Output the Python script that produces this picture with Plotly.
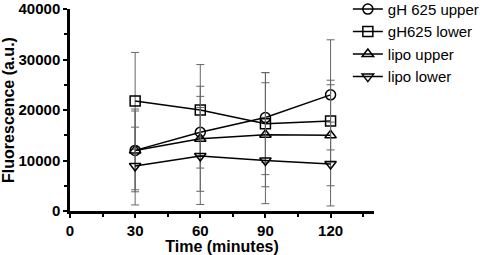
import plotly.graph_objects as go

time = [30, 60, 90, 120]
names = ["gH 625 upper", "gH625 lower", "lipo upper", "lipo lower"]
gh_upper = [12000, 15600, 18500, 23000]
gh_upper_sd = [8200, 7100, 8900, 10900]
gh_lower = [21800, 20000, 17300, 17800]
gh_lower_sd = [9600, 9000, 10100, 8100]
lipo_upper = [12000, 14300, 15100, 15000]
lipo_upper_sd = [7800, 10400, 10300, 10000]
lipo_lower = [8900, 10900, 10000, 9300]
lipo_lower_sd = [7700, 9600, 8550, 8300]
symbols = ["circle-open", "square-open", "triangle-up-open", "triangle-down-open"]
y_ticks = [0, 10000, 20000, 30000, 40000]
y_ticktext = ["0", "10000", "20000", "30000", "40000"]
x_ticks = [0, 30, 60, 90, 120]

series = [gh_upper, gh_lower, lipo_upper, lipo_lower]
sds = [gh_upper_sd, gh_lower_sd, lipo_upper_sd, lipo_lower_sd]

fig = go.Figure()
for name, ys, sd, sym in zip(names, series, sds, symbols):
    fig.add_trace(go.Scatter(
        x=time, y=ys, name=name, mode="lines+markers",
        line=dict(color="black", width=1.5),
        marker=dict(symbol=sym, size=10, color="black", line=dict(color="black", width=1.5)),
        error_y=dict(type="data", array=sd, visible=True, color="#666666", thickness=1, width=4),
    ))

font = "Liberation Sans, Arial, sans-serif"
fig.update_layout(
    width=484, height=255,
    margin=dict(l=70, r=110, t=9, b=44, autoexpand=False),
    plot_bgcolor="white", paper_bgcolor="white",
    font=dict(family=font, color="black"),
    showlegend=True,
    legend=dict(x=0.914, y=1.08, xanchor="left", yanchor="top",
                font=dict(size=15, family=font), bgcolor="rgba(0,0,0,0)",
                itemwidth=30, tracegroupgap=0),
    xaxis=dict(range=[0, 140], tickvals=x_ticks, showgrid=False, zeroline=False,
               showline=True, linecolor="black", linewidth=2.5, ticks="outside", ticklen=4,
               tickwidth=2, tickcolor="black", automargin=False,
               minor=dict(tickvals=[15, 45, 75, 105, 135], ticks="outside", ticklen=3, tickwidth=2, tickcolor="black"),
               tickfont=dict(size=15, family=font, weight="bold"),
               title=dict(text="<b>Time (minutes)</b>", font=dict(size=16, family=font), standoff=6)),
    yaxis=dict(range=[0, 40000], tickvals=y_ticks, ticktext=y_ticktext, showgrid=False, zeroline=False,
               showline=True, linecolor="black", linewidth=2.5, ticks="outside", ticklen=4,
               tickwidth=2, tickcolor="black", automargin=False,
               minor=dict(tickvals=[5000, 15000, 25000, 35000], ticks="outside", ticklen=3, tickwidth=2, tickcolor="black"),
               tickfont=dict(size=15, family=font, weight="bold"),
               title=dict(text="<b>Fluorescence (a.u.)</b>", font=dict(size=16, family=font), standoff=6)),
)
fig.write_html("out.html", config={"displayModeBar": False},
               post_script="document.body.style.margin='0';")
